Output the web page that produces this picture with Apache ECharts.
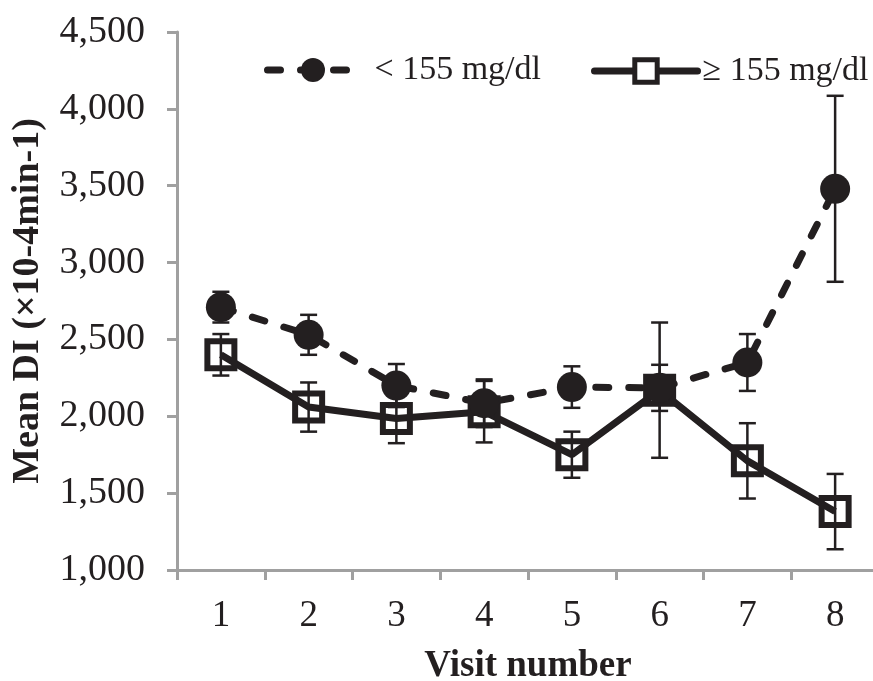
<!DOCTYPE html>
<html>
<head>
<meta charset="utf-8">
<script src="https://cdn.jsdelivr.net/npm/echarts@6/dist/echarts.min.js"></script>
<style>
html,body{margin:0;padding:0;background:#fff;}
#chart{width:873px;height:681px;}
</style>
</head>
<body>
<div id="chart"></div>
<script>
var categories = ['1','2','3','4','5','6','7','8'];
var lowName = '< 155 mg/dl';
var highName = '\u2265 155 mg/dl';
var lowValues = [2710, 2530, 2200, 2085, 2190, 2185, 2350, 3480];
var lowErrors = [100, 130, 140, 155, 135, 150, 185, 605];
var highValues = [2400, 2060, 1985, 2030, 1750, 2170, 1710, 1380];
var highErrors = [135, 160, 160, 200, 150, 440, 245, 245];
var yTicks = [1000, 1500, 2000, 2500, 3000, 3500, 4000, 4500];

var DARK = '#231f20';
var AXIS = '#a0a0a0';
var FONT = '"Liberation Serif", "Times New Roman", serif';
var DASH = [13, 20];

function errData(vals, errs) {
  return vals.map(function (v, i) { return [i, v - errs[i], v + errs[i]]; });
}
function errRender(params, api) {
  var x = api.value(0);
  var lo = api.coord([x, api.value(1)]);
  var hi = api.coord([x, api.value(2)]);
  var half = 8.5;
  var st = { stroke: DARK, lineWidth: 2.5 };
  return {
    type: 'group',
    children: [
      { type: 'line', shape: { x1: lo[0], y1: lo[1], x2: hi[0], y2: hi[1] }, style: st },
      { type: 'line', shape: { x1: lo[0] - half, y1: lo[1], x2: lo[0] + half, y2: lo[1] }, style: st },
      { type: 'line', shape: { x1: hi[0] - half, y1: hi[1], x2: hi[0] + half, y2: hi[1] }, style: st }
    ]
  };
}

var chart = echarts.init(document.getElementById('chart'));
chart.setOption({
  animation: false,
  backgroundColor: '#ffffff',
  textStyle: { fontFamily: FONT },
  grid: { left: 177, top: 32, width: 702, height: 538, outerBoundsMode: 'none', containLabel: false },
  legend: [
    {
      data: [lowName], left: 259, top: 48, itemWidth: 91, itemHeight: 30, padding: 5,
      lineStyle: { color: DARK, width: 7, type: DASH, cap: 'round' },
      itemStyle: { color: DARK },
      textStyle: { fontFamily: FONT, fontSize: 34, color: DARK, padding: [0, 0, 0, 11] }
    },
    {
      data: [highName], left: 586, top: 49, itemWidth: 103, itemHeight: 28, padding: 5,
      lineStyle: { color: DARK, width: 7, type: 'solid', cap: 'round' },
      itemStyle: { color: '#ffffff', borderColor: DARK, borderWidth: 5 },
      textStyle: { fontFamily: FONT, fontSize: 34, color: DARK, overflow: 'none' }
    }
  ],
  xAxis: {
    type: 'category',
    data: categories,
    boundaryGap: true,
    name: 'Visit number',
    nameLocation: 'middle',
    nameGap: 78,
    nameTextStyle: { fontFamily: FONT, fontSize: 37, fontWeight: 'bold', color: DARK },
    axisLine: { lineStyle: { color: AXIS, width: 3 } },
    axisTick: { show: true, interval: 0, length: 10, lineStyle: { color: AXIS, width: 3 } },
    axisLabel: { fontFamily: FONT, fontSize: 37, color: DARK, margin: 28 }
  },
  yAxis: {
    type: 'value',
    min: 1000, max: 4500, interval: 500,
    name: 'Mean DI (\u00d710-4min-1)',
    nameLocation: 'middle',
    nameGap: 130,
    nameTextStyle: { fontFamily: FONT, fontSize: 38, fontWeight: 'bold', color: DARK },
    splitLine: { show: false },
    axisLine: { show: true, lineStyle: { color: AXIS, width: 3 } },
    axisTick: { show: true, length: 10, lineStyle: { color: AXIS, width: 3 } },
    axisLabel: {
      fontFamily: FONT, fontSize: 38, color: DARK, margin: 32,
      formatter: function (v) { return yTicks.indexOf(v) >= 0 ? v.toLocaleString('en-US') : ''; }
    }
  },
  series: [
    {
      type: 'custom', name: 'err-high', renderItem: errRender,
      data: errData(highValues, highErrors), z: 2, silent: true
    },
    {
      type: 'line', name: highName, data: highValues, z: 3,
      symbol: 'rect', symbolSize: 27,
      lineStyle: { color: DARK, width: 7, type: 'solid' },
      itemStyle: { color: 'rgba(0,0,0,0)', borderColor: DARK, borderWidth: 6 }
    },
    {
      type: 'custom', name: 'err-low', renderItem: errRender,
      data: errData(lowValues, lowErrors), z: 4, silent: true
    },
    {
      type: 'line', name: lowName, data: lowValues, z: 5,
      symbol: 'circle', symbolSize: 30,
      lineStyle: { color: DARK, width: 7, type: DASH, cap: 'round' },
      itemStyle: { color: DARK, borderWidth: 0 }
    }
  ]
});
</script>
</body>
</html>
